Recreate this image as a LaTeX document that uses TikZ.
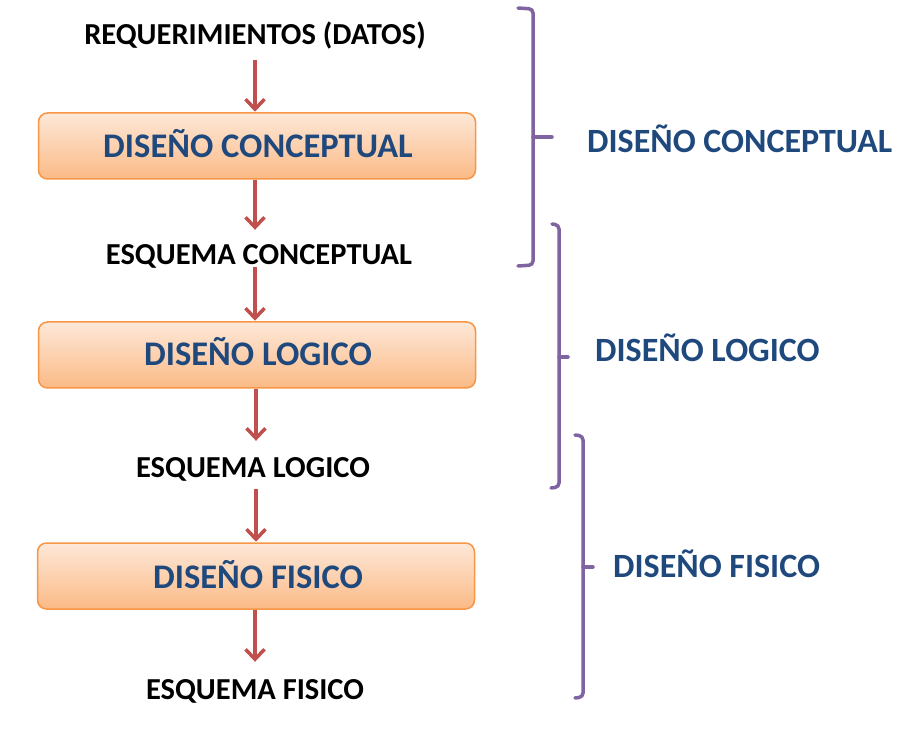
\documentclass[tikz,border=0pt]{standalone}
\usepackage{fontspec}
\setmainfont{Carlito}
\usetikzlibrary{arrows.meta}
\definecolor{arrred}{HTML}{C0504D}
\definecolor{boxline}{HTML}{F79646}
\definecolor{boxtop}{HTML}{FDE8D8}
\definecolor{boxbot}{HTML}{FBBA86}
\definecolor{bluetxt}{HTML}{1F497D}
\definecolor{bracecol}{HTML}{8064A2}
\tikzset{
  blacklbl/.style={anchor=base, inner sep=0pt, text height=19pt, text depth=0pt,
    font=\fontsize{30.5}{32}\selectfont\bfseries, text=black},
  stagebox/.style={draw=boxline, line width=1.5pt, rounded corners=9pt,
    top color=boxtop, bottom color=boxbot, minimum width=437pt, minimum height=66pt,
    inner sep=0pt},
  boxlbl/.style={anchor=base, inner sep=0pt, font=\fontsize{34.5}{36}\selectfont\bfseries, text=bluetxt},
  sidelbl/.style={anchor=base west, inner sep=0pt, font=\fontsize{34}{36}\selectfont\bfseries, text=bluetxt},
  arr/.style={draw=arrred, line width=3.5pt, -{Straight Barb[length=10pt,width=19pt,line width=3.5pt]}},
  bracket/.style={draw=bracecol, line width=3.5pt, rounded corners=4pt, line cap=round},
}
\begin{document}
\begin{tikzpicture}[x=1pt,y=-1pt]
\useasboundingbox (0,0) rectangle (906,738);
% boxes
\node[stagebox] (b1) at (257,146) {};
\node[stagebox] (b2) at (257,355) {};
\node[stagebox] (b3) at (256,576) {};
\node[boxlbl] (t1) at (258,158) {DISEÑO CONCEPTUAL};
\node[boxlbl] (t2) at (258,366) {DISEÑO LOGICO};
\node[boxlbl] (t3) at (258,588) {DISEÑO FISICO};
% black labels
\node[blacklbl] (req) at (255,45) {REQUERIMIENTOS (DATOS)};
\node[blacklbl] (ec) at (259,265) {ESQUEMA CONCEPTUAL};
\node[blacklbl] (el) at (253,477) {ESQUEMA LOGICO};
\node[blacklbl] (ef) at (255,699) {ESQUEMA FISICO};
% arrows
\draw[arr, shorten <=15pt, shorten >=0.5pt] ([xshift=-2pt]req.south -| b1.north) -- ([xshift=-2pt]b1.north);
\draw[arr, shorten >=16pt] ([xshift=-2pt]b1.south) -- ([xshift=-2pt]b1.south |- ec.north);
\draw[arr, shorten <=2pt, shorten >=0.5pt] ([xshift=-2pt]b2.north |- ec.south) -- ([xshift=-2pt]b2.north);
\draw[arr, shorten >=17pt] ([xshift=-1pt]b2.south) -- ([xshift=-1pt]b2.south |- el.north);
\draw[arr, shorten <=12pt, shorten >=0.5pt] (b3.north |- el.south) -- (b3.north);
\draw[arr, shorten >=18pt] ([xshift=-1pt]b3.south) -- ([xshift=-1pt]b3.south |- ef.north);
% side labels
\node[sidelbl] (s1) at (587,153) {DISEÑO CONCEPTUAL};
\node[sidelbl] (s2) at (595,362) {DISEÑO LOGICO};
\node[sidelbl] (s3) at (613,577) {DISEÑO FISICO};
% brackets
\draw[bracket] (518,8) -- (533,9) -- (533,265) -- (518,266);
\draw[bracket] (533,137) -- (552,137);
\draw[bracket] (552,224) -- (559,225) -- (559,487) -- (551,488);
\draw[bracket] (559,357) -- (568,357);
\draw[bracket] (575,435) -- (583,436) -- (583,697) -- (575,698);
\draw[bracket] (583,567) -- (593,567);
\end{tikzpicture}
\end{document}
